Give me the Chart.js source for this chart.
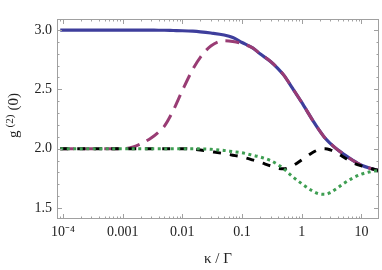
<!DOCTYPE html>
<html>
<head>
<meta charset="utf-8">
<script src="https://cdn.jsdelivr.net/npm/chart.js@4.4.1/dist/chart.umd.min.js"></script>
<style>
  html, body { margin: 0; padding: 0; background: #fff; }
</style>
</head>
<body>
<canvas id="myChart" width="382" height="270"></canvas>
<script>
/* DATA */

const kappa = [9e-5, 2e-4, 5e-4, 1e-3, 1.5e-3, 2e-3, 3e-3, 4e-3, 5e-3, 7e-3,
  0.01, 0.015, 0.02, 0.03, 0.05, 0.07, 0.1, 0.15, 0.2, 0.3, 0.4, 0.5, 0.7,
  1, 1.5, 2, 2.5, 3, 4, 5, 7, 10, 15, 19.5];

// solid blue
const gSolid = [3.0, 3.0, 3.0, 3.0, 3.0, 3.0, 2.999, 2.998, 2.998, 2.996,
  2.994, 2.99, 2.985, 2.975, 2.958, 2.937, 2.895, 2.85, 2.80, 2.735, 2.675, 2.62, 2.51,
  2.39, 2.245, 2.15, 2.085, 2.045, 1.99, 1.955, 1.905, 1.86, 1.83, 1.815];

// long dashes, purple
const gLongDash = [2.0, 2.0, 2.0, 2.0, 2.015, 2.04, 2.09, 2.14, 2.19, 2.32,
  2.49, 2.67, 2.77, 2.865, 2.91, 2.903, 2.885, 2.85, 2.80, 2.735, 2.675, 2.62, 2.51,
  2.39, 2.245, 2.15, 2.085, 2.045, 1.99, 1.955, 1.905, 1.86, 1.83, 1.815];

// short dashes, black
const gShortDash = [2.0, 2.0, 2.0, 2.0, 2.0, 2.0, 2.0, 2.0, 2.0, 2.0,
  2.0, 1.995, 1.988, 1.975, 1.958, 1.945, 1.93, 1.905, 1.885, 1.855, 1.835, 1.83, 1.855,
  1.905, 1.965, 1.995, 2.0, 1.99, 1.96, 1.93, 1.885, 1.855, 1.83, 1.815];

// dotted, green
const gDotted = [2.0, 2.0, 2.0, 2.0, 2.0, 2.0, 2.0, 2.0, 2.0, 2.0,
  2.0, 2.0, 1.998, 1.995, 1.985, 1.975, 1.965, 1.945, 1.93, 1.9, 1.865, 1.83, 1.765,
  1.705, 1.645, 1.618, 1.615, 1.63, 1.67, 1.705, 1.75, 1.785, 1.808, 1.815];

const xTicks = [1e-4, 1e-3, 0.01, 0.1, 1, 10];
const xTickLabels = ['10\u207B\u2074', '0.001', '0.01', '0.1', '1', '10'];
const yTicks = [1.5, 2.0, 2.5, 3.0];
const yTickLabels = ['1.5', '2.0', '2.5', '3.0'];

function pts(arr) {
  return kappa.map(function (k, i) { return { x: k, y: arr[i] }; });
}

/* FRAME + INWARD TICKS (mathematica style) */

const framePlugin = {
  id: 'frame',
  afterDatasetsDraw(chart) {
    const ctx = chart.ctx;
    const a = chart.chartArea;
    const x = chart.scales.x;
    const y = chart.scales.y;
    ctx.save();
    ctx.strokeStyle = '#a0a0a0';
    ctx.lineWidth = 1;
    ctx.strokeRect(Math.round(a.left) + 0.5, Math.round(a.top) + 0.5,
      Math.round(a.right - a.left) - 1, Math.round(a.bottom - a.top) - 1);
    ctx.beginPath();
    for (let d = -5; d <= 1; d++) {
      for (let m = 1; m <= 9; m++) {
        const v = m * Math.pow(10, d);
        if (v < x.min || v > x.max) continue;
        const px = Math.round(x.getPixelForValue(v)) + 0.5;
        const len = m === 1 ? 5 : 2.5;
        ctx.moveTo(px, a.bottom); ctx.lineTo(px, a.bottom - len);
        ctx.moveTo(px, a.top); ctx.lineTo(px, a.top + len);
      }
    }
    for (let i = 14; i <= 31; i++) {
      const v = i / 10;
      if (v < y.min || v > y.max) continue;
      const py = Math.round(y.getPixelForValue(v)) + 0.5;
      const len = i % 5 === 0 ? 5 : 2.5;
      ctx.moveTo(a.left, py); ctx.lineTo(a.left + len, py);
      ctx.moveTo(a.right, py); ctx.lineTo(a.right - len, py);
    }
    ctx.stroke();
    ctx.restore();
  },
  afterDraw(chart) {
    // y axis title g^(2)(0), rotated
    const ctx = chart.ctx;
    ctx.save();
    ctx.translate(17.5, 115.5);
    ctx.rotate(-Math.PI / 2);
    ctx.fillStyle = '#222';
    ctx.textBaseline = 'alphabetic';
    const big = '15px "Liberation Serif"';
    const small = '11px "Liberation Serif"';
    ctx.font = big;
    const wg = ctx.measureText('g').width;
    const w0 = ctx.measureText('(0)').width;
    ctx.font = small;
    const w2 = ctx.measureText('(2)').width;
    let cx = -(wg + w2 + w0 + 7) / 2;
    ctx.font = big;
    ctx.fillText('g', cx, 0);
    cx += wg + 3;
    ctx.font = small;
    ctx.fillText('(2)', cx, -5);
    cx += w2 + 4;
    ctx.font = big;
    ctx.fillText('(0)', cx, 0);
    ctx.restore();
  }
};

/* CHART */

const ctx = document.getElementById('myChart').getContext('2d');
const labelFont = { family: 'Liberation Serif', size: 14 };

const chart = new Chart(ctx, {
  type: 'line',
  data: {
    datasets: [
      {
        data: pts(gSolid),
        borderColor: '#3e3e9c',
        borderWidth: 3.2,
        order: 4
      },
      {
        data: pts(gLongDash),
        borderColor: '#993c74',
        borderDash: [14, 8],
        order: 3
      },
      {
        data: pts(gShortDash),
        borderColor: '#000000',
        borderDash: [8, 9],
        order: 2
      },
      {
        data: pts(gDotted),
        borderColor: '#3e9e52',
        borderDash: [3, 3.5],
        order: 1
      }
    ]
  },
  options: {
    responsive: false,
    animation: false,
    layout: { padding: { top: 19, right: 3, left: 0, bottom: 0 } },
    plugins: { legend: { display: false }, tooltip: { enabled: false } },
    elements: {
      point: { radius: 0 },
      line: { borderWidth: 3, cubicInterpolationMode: 'monotone', fill: false }
    },
    scales: {
      x: {
        type: 'logarithmic',
        min: 7.94e-5,
        max: 19.7,
        grid: { display: false, drawTicks: false },
        border: { display: false },
        afterBuildTicks: function (s) { s.ticks = xTicks.map(function (v) { return { value: v }; }); },
        afterFit: function (s) { s.height = 51; },
        ticks: {
          autoSkip: false,
          maxRotation: 0,
          padding: 5,
          color: '#222',
          font: labelFont,
          callback: function (v, i) { return xTickLabels[i]; }
        },
        title: {
          display: true,
          text: '\u03BA / \u0393',
          color: '#222',
          font: { family: 'Liberation Serif', size: 15 },
          padding: { top: 0, bottom: 2 }
        }
      },
      y: {
        min: 1.407,
        max: 3.093,
        grid: { display: false, drawTicks: false },
        border: { display: false },
        afterBuildTicks: function (s) { s.ticks = yTicks.map(function (v) { return { value: v }; }); },
        afterFit: function (s) { s.width = 57; },
        ticks: {
          padding: 5,
          color: '#222',
          font: labelFont,
          callback: function (v, i) { return yTickLabels[i]; }
        }
      }
    }
  },
  plugins: [framePlugin]
});
</script>
</body>
</html>
